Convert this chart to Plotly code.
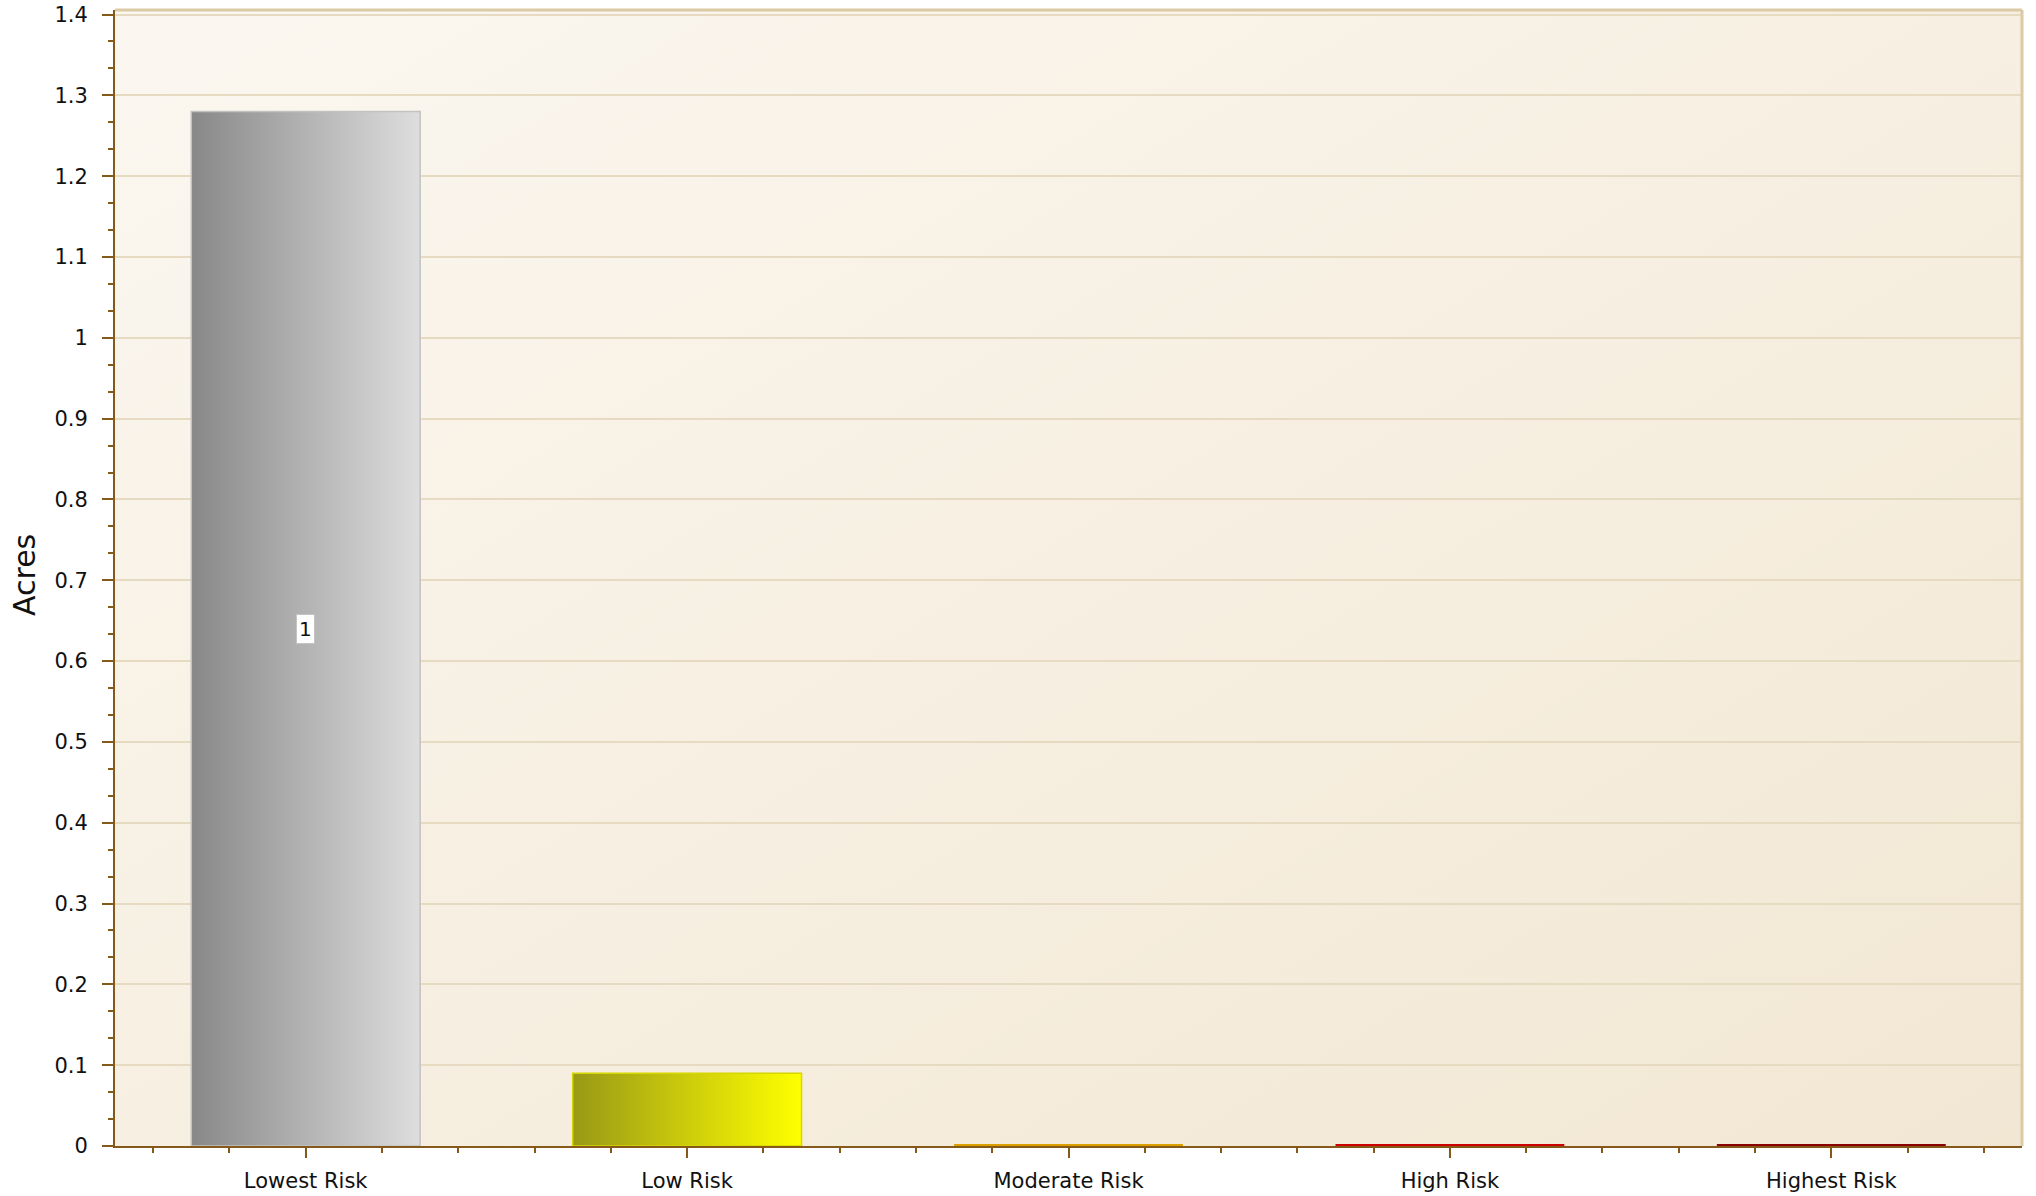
import base64
import plotly.graph_objects as go

# ---- data -------------------------------------------------------------
categories = ["Lowest Risk", "Low Risk", "Moderate Risk", "High Risk", "Highest Risk"]
acres = [1.28, 0.09, 0, 0, 0]
y_ticks = [0, 0.1, 0.2, 0.3, 0.4, 0.5, 0.6, 0.7, 0.8, 0.9, 1, 1.1, 1.2, 1.3, 1.4]
y_title = "Acres"

# left / right gradient stops and outline colour of each bar
grad_left = ["#888888", "#999916", "#d99a00", "#c40000", "#8a0000"]
grad_right = ["#dedede", "#ffff00", "#e8aa10", "#d01010", "#9a0000"]
outline = ["#c2c2c2", "#d6d600", "#d9a000", "#cc0000", "#8b0000"]

BAR_W = 0.6
AXIS_COL = "#85591a"
FONT = "DejaVu Sans"
W, H = 2036, 1196
M = dict(l=115, r=14, t=10, b=50)

fig = go.Figure()

for i, (cat, v) in enumerate(zip(categories, acres)):
    x0, x1 = i - BAR_W / 2, i + BAR_W / 2
    if v > 0:
        fig.add_trace(go.Scatter(
            x=[x0, x0, x1, x1, x0], y=[0, v, v, 0, 0],
            mode="lines", fill="toself",
            fillgradient=dict(type="horizontal",
                              colorscale=[[0, grad_left[i]], [1, grad_right[i]]]),
            line=dict(color=outline[i], width=1.5),
            name=cat, showlegend=False, hoverinfo="skip",
        ))
    else:
        # empty class: only the baseline edge of the bar remains
        fig.add_trace(go.Scatter(
            x=[x0, x1], y=[v, v], mode="lines",
            line=dict(color=outline[i], width=4),
            cliponaxis=False, name=cat, showlegend=False, hoverinfo="skip",
        ))

# value tag on the tallest bar
peak = max(range(len(acres)), key=lambda k: acres[k])
fig.add_annotation(
    x=peak, y=acres[peak] / 2, text=f"{acres[peak]:.0f}", showarrow=False,
    font=dict(family=FONT, size=20, color="#111111"),
    bgcolor="#ffffff", bordercolor="#c4c4c4", borderwidth=1, borderpad=2,
)

# vertical axis title, placed in the left margin
plot_w = W - M["l"] - M["r"]
plot_h = H - M["t"] - M["b"]
fig.add_annotation(
    xref="paper", yref="paper",
    x=(24 - M["l"]) / plot_w, y=(H - M["b"] - 575) / plot_h,
    xanchor="center", yanchor="middle",
    text=y_title, textangle=-90, showarrow=False,
    font=dict(family=FONT, size=30, color="#111111"),
)

# soft diagonal wash behind the plotting area
svg = (
    '<svg xmlns="http://www.w3.org/2000/svg" width="100" height="100" '
    'viewBox="0 0 100 100" preserveAspectRatio="none">'
    '<defs><linearGradient id="g" x1="0" y1="0" x2="1" y2="1">'
    '<stop offset="0" stop-color="#fbf7f0"/>'
    '<stop offset="1" stop-color="#f2e7d3"/>'
    '</linearGradient></defs>'
    '<rect width="100" height="100" fill="url(#g)"/></svg>'
)
bg_src = "data:image/svg+xml;base64," + base64.b64encode(svg.encode()).decode()
fig.add_layout_image(dict(
    source=bg_src, xref="paper", yref="paper", x=0, y=1, sizex=1, sizey=1,
    xanchor="left", yanchor="top", sizing="stretch", layer="below",
))

# tan frame on the top and right edges
for x0, y0, x1, y1 in [(0, 1, 1, 1), (1, 0, 1, 1)]:
    fig.add_shape(type="line", xref="paper", yref="paper",
                  x0=x0, y0=y0, x1=x1, y1=y1,
                  line=dict(color="#dccaa5", width=3))

fig.update_layout(
    width=W, height=H,
    margin=M,
    paper_bgcolor="#ffffff",
    plot_bgcolor="rgba(0,0,0,0)",
    font=dict(family=FONT, color="#111111"),
    showlegend=False,
)

fig.update_xaxes(
    range=[-0.5, 4.5], automargin=False,
    tickvals=list(range(len(categories))), ticktext=categories,
    tickfont=dict(size=21, family=FONT, color="#111111"),
    showgrid=False, zeroline=False,
    showline=True, linecolor=AXIS_COL, linewidth=2,
    ticks="outside", ticklen=10, tickwidth=2, tickcolor=AXIS_COL,
    ticklabelstandoff=5,
    minor=dict(dtick=0.2, tick0=0, ticks="outside", ticklen=5,
               tickwidth=2, tickcolor=AXIS_COL, showgrid=False),
    fixedrange=True,
)

fig.update_yaxes(
    range=[0, 1.4056], automargin=False,
    tickvals=y_ticks, ticktext=[f"{t:g}" for t in y_ticks],
    tickfont=dict(size=21, family=FONT, color="#111111"),
    showgrid=True, gridcolor="#e6dbc1", gridwidth=2,
    zeroline=False,
    showline=True, linecolor=AXIS_COL, linewidth=2,
    ticks="outside", ticklen=11, tickwidth=2, tickcolor=AXIS_COL,
    ticklabelstandoff=10,
    minor=dict(dtick=0.1 / 3, tick0=0, ticks="outside", ticklen=5,
               tickwidth=2, tickcolor=AXIS_COL, showgrid=False),
    fixedrange=True,
)

fig.write_html("out.html")
